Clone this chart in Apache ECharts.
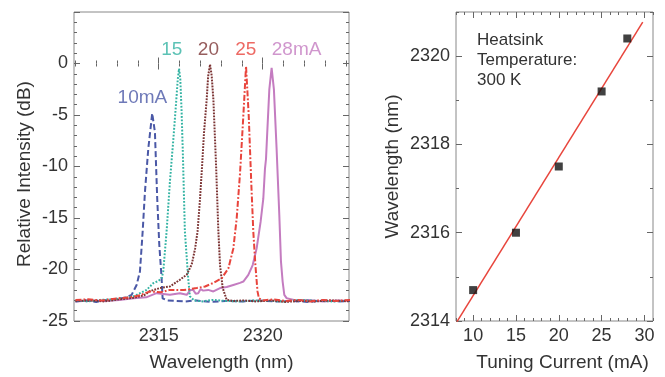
<!DOCTYPE html>
<html><head><meta charset="utf-8">
<script src="https://cdn.jsdelivr.net/npm/echarts@6/dist/echarts.min.js"></script>
<style>html,body{margin:0;padding:0;background:#fff}#c{width:665px;height:377px}</style>
</head><body><div id="c"></div>
<script>
// ---------- Left panel: spectra ----------
const wl10 = [2311.0,2311.5,2312.0,2312.5,2313.0,2313.35,2313.70,2313.94,2314.10,2314.23,2314.34,2314.50,2314.69,2314.82,2314.93,2315.03,2315.14,2315.19,2315.4,2315.8,2316.3,2316.8,2317.5,2318.2,2319.0,2319.8,2320.6,2321.4,2322.2,2323.0,2323.6,2324.2];
const db10 = [-23.1,-23.0,-23.15,-22.95,-22.85,-22.75,-22.46,-21.5,-20.2,-16.34,-12.48,-8.3,-4.83,-6.66,-13.1,-17.6,-20.8,-22.8,-23.0,-23.05,-23.1,-23.0,-23.15,-23.05,-23.1,-23.0,-23.1,-23.05,-23.15,-23.0,-23.1,-23.05];

const wl15 = [2311.0,2311.6,2312.2,2312.8,2313.4,2313.8,2314.10,2314.42,2314.74,2315.0,2315.14,2315.22,2315.38,2315.54,2315.70,2315.82,2315.92,2315.98,2316.04,2316.10,2316.16,2316.26,2316.42,2316.50,2316.7,2317.1,2317.6,2318.2,2318.9,2319.6,2320.3,2321.0,2321.8,2322.6,2323.4,2324.2];
const db15 = [-23.0,-23.1,-22.95,-22.9,-22.75,-22.6,-22.3,-21.98,-21.33,-21.1,-20.85,-20.2,-16.34,-11.5,-7.5,-4.3,-1.5,-0.5,-1.5,-4.5,-8.5,-16.3,-20.85,-22.6,-23.0,-23.1,-22.95,-23.05,-23.1,-23.0,-23.05,-23.1,-22.95,-23.05,-23.1,-23.0];

const wl20 = [2311.0,2311.7,2312.4,2313.1,2313.8,2314.3,2314.58,2315.06,2315.54,2316.02,2316.35,2316.59,2316.75,2316.87,2316.99,2317.09,2317.18,2317.31,2317.38,2317.47,2317.55,2317.63,2317.76,2317.87,2317.95,2318.08,2318.27,2318.6,2319.1,2319.7,2320.4,2321.1,2321.8,2322.5,2323.3,2324.2];
const db20 = [-23.05,-23.0,-23.1,-22.9,-22.75,-22.5,-22.1,-21.8,-21.65,-21.0,-20.5,-19.5,-18.0,-16.3,-13.1,-9.85,-6.7,-3.47,-1.22,-0.1,-1.2,-3.47,-9.9,-16.3,-19.6,-21.8,-22.95,-23.05,-23.0,-23.1,-23.0,-23.15,-23.05,-23.1,-23.0,-23.1];

const wl25 = [2311.0,2311.6,2312.3,2313.0,2313.6,2314.1,2314.58,2315.1,2315.54,2316.2,2316.83,2317.23,2317.63,2318.03,2318.35,2318.59,2318.75,2318.91,2319.07,2319.20,2319.33,2319.45,2319.55,2319.65,2319.75,2319.82,2320.0,2320.5,2321.1,2321.7,2322.3,2322.9,2323.5,2324.2];
const db25 = [-22.95,-22.9,-23.0,-22.8,-22.7,-22.5,-22.13,-22.2,-21.98,-22.0,-21.8,-21.65,-21.3,-20.85,-19.9,-17.95,-15.06,-10.7,-5.09,-0.26,-5.09,-11.5,-16.34,-19.57,-22.1,-22.8,-23.0,-22.9,-23.05,-22.95,-23.1,-22.95,-23.05,-22.95];

const wl28 = [2311.0,2311.7,2312.4,2313.1,2313.8,2314.4,2314.90,2315.54,2316.02,2316.35,2316.52,2316.66,2316.78,2316.90,2317.02,2317.14,2317.38,2317.63,2317.95,2318.27,2318.59,2318.91,2319.07,2319.31,2319.52,2319.71,2319.90,2320.03,2320.11,2320.16,2320.22,2320.32,2320.43,2320.54,2320.67,2320.80,2320.88,2320.96,2321.04,2321.15,2321.6,2322.2,2322.9,2323.6,2324.2];
const db28 = [-23.1,-23.0,-23.05,-22.95,-22.8,-22.7,-22.3,-22.46,-22.3,-22.46,-22.0,-21.98,-22.35,-22.3,-21.9,-22.05,-21.98,-22.13,-21.8,-21.7,-21.5,-21.3,-21.17,-20.53,-19.57,-17.95,-15.38,-13.13,-10.23,-9.27,-6.69,-2.51,-0.42,-2.51,-8.3,-14.74,-19.24,-21.17,-22.46,-22.78,-23.0,-22.95,-23.1,-23.0,-23.05];

const curveNames = ['10mA','15','20','25','28mA'];
const labelX = [2314.22, 2315.63, 2317.39, 2319.19, 2321.63];
const labelY = [-3.3, 1.3, 1.3, 1.3, 1.3];

const leftXLabels = [2315, 2320];
const leftYLabels = [-25, -20, -15, -10, -5, 0];

// ---------- Right panel: tuning ----------
const current = [10, 15, 20, 25, 28];
const peakWl = [2314.7, 2316.0, 2317.5, 2319.2, 2320.4];
const fitCurrent = [8.1, 29.8];
const fitWl = [2313.98, 2320.77];
const rightXLabels = [10, 15, 20, 25, 30];
const rightYLabels = [2314, 2316, 2318, 2320];

// ---------- styles ----------
const colors = ['#4a58a6', '#33b3a3', '#7c3434', '#e8443c', '#c47cc0'];
const dashes = [[6,3], [1.8,1.6], [1.8,1.2], [6,2,1.8,2], 'solid'];
const FONT = 'Liberation Sans, Arial, Helvetica, sans-serif';
const TXT = '#333';
const TICK = '#666';

const zip = (a, b) => a.map((v, i) => [v, b[i]]);
const intRange = (a, b) => { const r = []; for (let v = Math.ceil(a); v <= b; v++) r.push(v); return r; };

function axesFor(dim, grid, min, max, majors, labels, name, nameGap, namePad) {
  const minors = intRange(min, max).filter(v => majors.indexOf(v) < 0);
  const posA = dim === 'x' ? 'bottom' : 'left';
  const posB = dim === 'x' ? 'top' : 'right';
  const base = { type: 'value', gridIndex: grid, min: min, max: max,
    axisLine: { show: false }, splitLine: { show: false } };
  const main = Object.assign({}, base, {
    position: posA,
    axisTick: { show: true, inside: true, length: 6, customValues: majors, lineStyle: { color: TICK, width: 1 } },
    axisLabel: { show: true, customValues: labels, margin: 6, color: TXT, fontSize: 18, fontFamily: FONT,
      formatter: v => String(v) },
    name: name, nameLocation: 'middle', nameGap: nameGap,
    nameTextStyle: { color: TXT, fontSize: 19, fontFamily: FONT, padding: namePad }
  });
  const mk = (pos, len, vals) => Object.assign({}, base, {
    position: pos,
    axisTick: { show: true, inside: true, length: len, customValues: vals, lineStyle: { color: TICK, width: 1 } },
    axisLabel: { show: false }
  });
  return [main, mk(posA, 3, minors), mk(posB, 6, majors), mk(posB, 3, minors)];
}

const xAxes = [].concat(
  axesFor('x', 0, 2310.93, 2324.15, leftXLabels, leftXLabels, 'Wavelength (nm)', 32, [0,0,0,20]),
  axesFor('x', 1, 8, 31, rightXLabels, rightXLabels, 'Tuning Current (mA)', 32, [0,0,0,16])
);
const yAxes = [].concat(
  axesFor('y', 0, -25, 5, [-25,-20,-15,-10,-5,0,5], leftYLabels, 'Relative Intensity (dB)', 40, [0,15,0,0]),
  axesFor('y', 1, 2314, 2321, [2314,2316,2318,2320], rightYLabels, 'Wavelength (nm)', 54, [0,0,0,0])
);

const spectra = [[wl10,db10],[wl15,db15],[wl20,db20],[wl25,db25],[wl28,db28]];
const series = spectra.map((s, i) => ({
  type: 'line', name: curveNames[i], xAxisIndex: 0, yAxisIndex: 0,
  data: zip(s[0], s[1]), showSymbol: false, symbol: 'none', animation: false,
  lineStyle: { color: colors[i], width: 2, type: dashes[i] }, z: 2 + (i === 4 ? 0 : 1)
}));
series.push({
  type: 'scatter', xAxisIndex: 0, yAxisIndex: 0, symbolSize: 0, animation: false, silent: true,
  data: curveNames.map((n, i) => ({ value: [labelX[i], labelY[i]], name: n,
    label: { show: true, position: 'inside', formatter: n, color: colors[i], fontSize: 19, fontFamily: FONT } }))
});
series.push({
  type: 'line', xAxisIndex: 4, yAxisIndex: 4, data: zip(fitCurrent, fitWl), showSymbol: false, symbol: 'none',
  lineStyle: { color: '#e8453c', width: 1.5 }, animation: false, z: 2
});
series.push({
  type: 'scatter', xAxisIndex: 4, yAxisIndex: 4, data: zip(current, peakWl), symbol: 'rect', symbolSize: 8,
  itemStyle: { color: '#111' }, animation: false, z: 3
});

const chart = echarts.init(document.getElementById('c'), null, { renderer: 'canvas' });
chart.setOption({
  backgroundColor: '#fff',
  animation: false,
  grid: [
    { left: 74, top: 12, width: 275, height: 311, show: true, borderColor: '#888', borderWidth: 1, backgroundColor: 'transparent' },
    { left: 456, top: 12, width: 197, height: 311, show: true, borderColor: '#888', borderWidth: 1, backgroundColor: 'transparent' }
  ],
  xAxis: xAxes,
  yAxis: yAxes,
  graphic: [{
    type: 'text', left: 477, top: 30,
    style: { text: 'Heatsink\nTemperature:\n300 K', fill: TXT, font: '17px ' + FONT, lineHeight: 20 }
  }],
  series: series
});
</script></body></html>
